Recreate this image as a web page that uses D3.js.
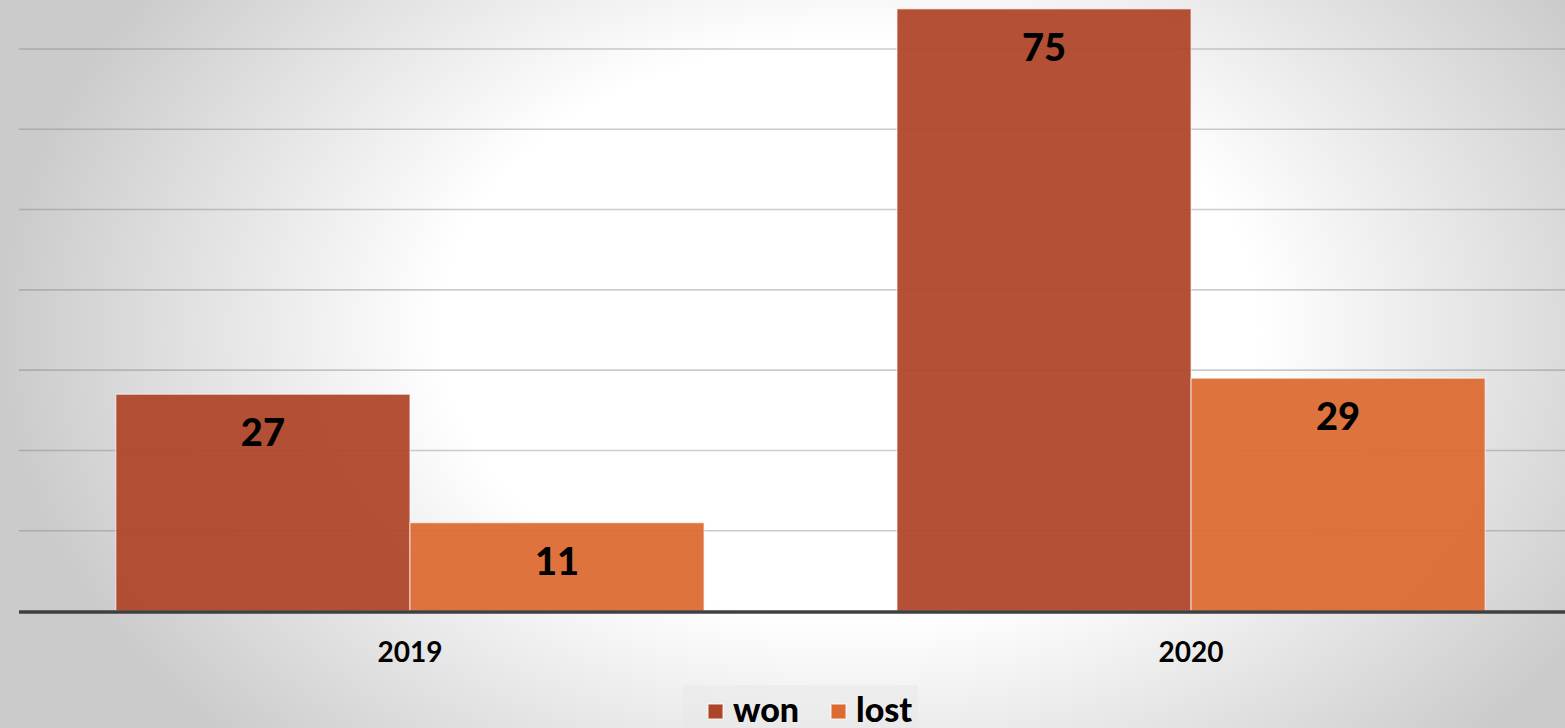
<!DOCTYPE html>
<html lang="en">
<head>
<meta charset="utf-8">
<title>won / lost</title>
<script src="https://cdn.jsdelivr.net/npm/d3@7"></script>
<style>
  html, body { margin: 0; padding: 0; overflow: hidden; }
  body { font-family: "Lato", "DejaVu Sans", sans-serif; }
</style>
</head>
<body>
<script>
// chart data
const years = ["2019", "2020"];
const seriesNames = ["won", "lost"];
const won = [27, 75];
const lost = [11, 29];
const gridTicks = [10, 20, 30, 40, 50, 60, 70];

const w = 1565, h = 728;
const colors = { won: "#ae4528", lost: "#dc6a32" };

const svg = d3.select("body").append("svg")
  .attr("width", w)
  .attr("height", h);

// background: wide white centre fading to grey at the edges
const defs = svg.append("defs");
const grad = defs.append("radialGradient")
  .attr("id", "bg")
  .attr("gradientUnits", "userSpaceOnUse")
  .attr("cx", 0).attr("cy", 0).attr("r", 1)
  .attr("gradientTransform", "translate(850,330) scale(850,600)");
grad.append("stop").attr("offset", "0%").attr("stop-color", "#ffffff");
grad.append("stop").attr("offset", "48%").attr("stop-color", "#ffffff");
grad.append("stop").attr("offset", "100%").attr("stop-color", "#cbcbcb");

svg.append("rect")
  .attr("width", w).attr("height", h)
  .attr("fill", "url(#bg)");

let x0 = d3.scaleBand()
  .domain(years)
  .range([19, 1582])
  .paddingInner(0.247)
  .paddingOuter(0.124);

let x1 = d3.scaleBand()
  .domain(seriesNames)
  .range([0, x0.bandwidth()]);

let yScale = d3.scaleLinear()
  .domain([0, 70])
  .range([611, 49]);

// gridlines
svg.append("g")
  .selectAll("line")
  .data(gridTicks)
  .enter()
  .append("line")
  .attr("x1", 19)
  .attr("x2", w)
  .attr("y1", d => yScale(d))
  .attr("y2", d => yScale(d))
  .attr("stroke", "#7a7a7a")
  .attr("stroke-opacity", 0.38)
  .attr("stroke-width", 1.6);

// bars
let rows = years.map((yr, i) => ({ year: yr, won: won[i], lost: lost[i] }));

let groups = svg.append("g")
  .selectAll("g")
  .data(rows)
  .enter()
  .append("g")
  .attr("transform", d => "translate(" + x0(d.year) + ",0)");

let bars = groups.selectAll("g")
  .data(d => seriesNames.map(k => ({ key: k, value: d[k] })))
  .enter()
  .append("g");

bars.append("rect")
  .attr("x", d => x1(d.key))
  .attr("y", d => yScale(d.value))
  .attr("width", x1.bandwidth())
  .attr("height", d => yScale(0) - yScale(d.value))
  .attr("fill", d => colors[d.key])
  .attr("fill-opacity", 0.94)
  .attr("stroke", "#ffffff")
  .attr("stroke-opacity", 0.6)
  .attr("stroke-width", 1.2);

bars.append("text")
  .attr("x", d => x1(d.key) + x1.bandwidth() / 2)
  .attr("y", d => yScale(d.value) + 52)
  .attr("text-anchor", "middle")
  .attr("font-size", "38px")
  .attr("font-weight", "900")
  .attr("fill", "#000")
  .text(d => d.value);

// baseline
svg.append("line")
  .attr("x1", 19).attr("x2", w)
  .attr("y1", yScale(0) + 1).attr("y2", yScale(0) + 1)
  .attr("stroke", "#404040")
  .attr("stroke-width", 3.5);

// category labels
svg.append("g")
  .selectAll("text")
  .data(years)
  .enter()
  .append("text")
  .attr("x", d => x0(d) + x0.bandwidth() / 2)
  .attr("y", 662)
  .attr("text-anchor", "middle")
  .attr("font-size", "28px")
  .attr("font-weight", "bold")
  .attr("fill", "#000")
  .text(d => d);

// legend
let legend = svg.append("g");
legend.append("rect")
  .attr("x", 683).attr("y", 685)
  .attr("width", 235).attr("height", 43)
  .attr("fill", "#e6e6e6")
  .attr("fill-opacity", 0.45);

let legendX = [708, 831];
let items = legend.selectAll("g")
  .data(seriesNames)
  .enter()
  .append("g")
  .attr("transform", (d, i) => "translate(" + legendX[i] + ",0)");

items.append("rect")
  .attr("x", 0).attr("y", 704)
  .attr("width", 15).attr("height", 15)
  .attr("fill", d => colors[d])
  .attr("stroke", "#ffffff")
  .attr("stroke-opacity", 0.6)
  .attr("stroke-width", 1.5);

items.append("text")
  .attr("x", 25).attr("y", 722)
  .attr("font-size", "34px")
  .attr("font-weight", "900")
  .attr("fill", "#000")
  .text(d => d);
</script>
</body>
</html>
